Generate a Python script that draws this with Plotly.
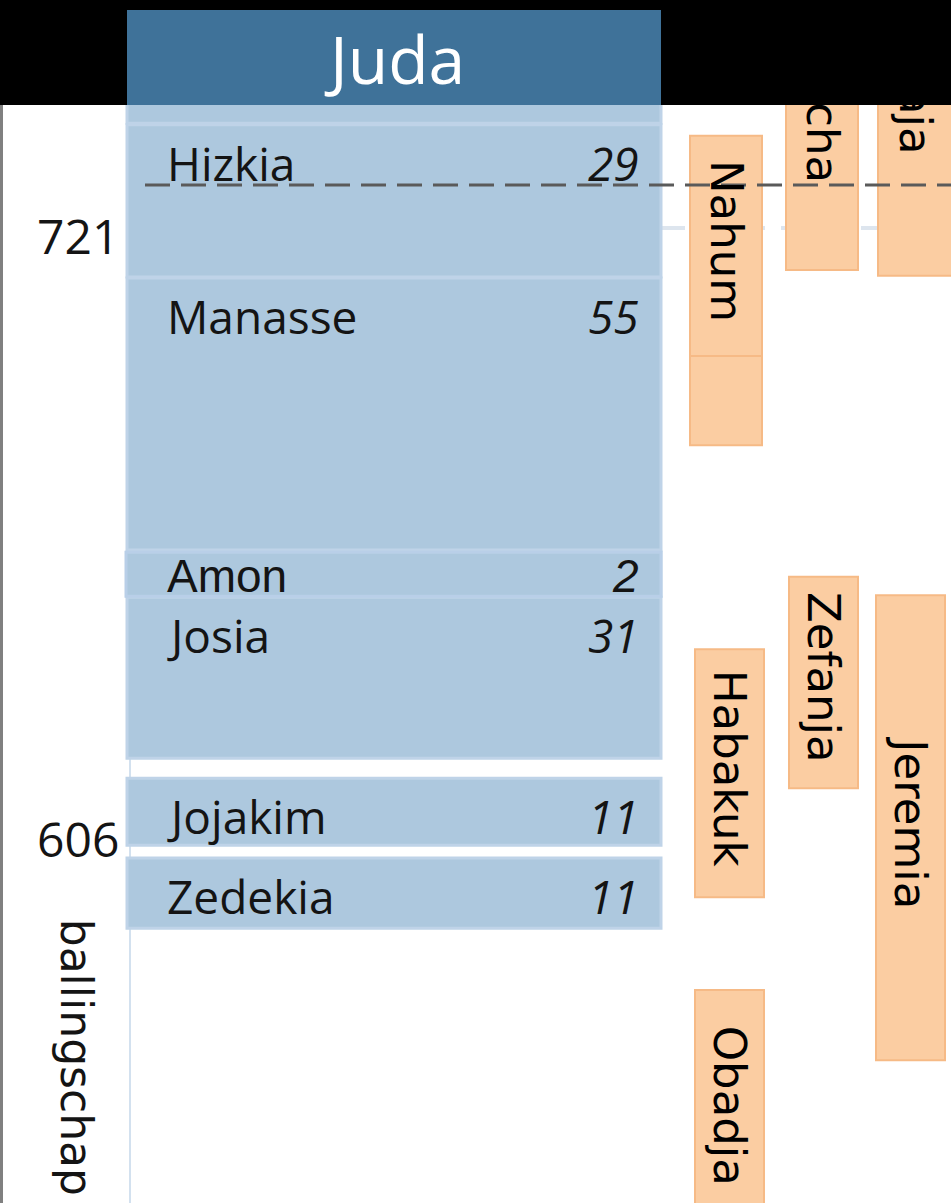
import plotly.graph_objects as go

# ---------------- data (years BC) ----------------
kings = ["Achaz", "Hizkia", "Manasse", "Amon", "Josia", "Jojakim", "Zedekia"]
reign_years = [16, 29, 55, 2, 31, 11, 11]
king_start = [760.0, 742.4, 713.2, 660.9, 652.3, 617.8, 602.6]
king_end = [742.7, 713.4, 661.3, 652.5, 621.6, 605.0, 589.2]

prophets = ["Jesaja", "Micha", "Nahum", "Nahum", "Zefanja", "Habakuk", "Jeremia", "Obadja"]
prophet_start = [783.7, 771.2, 740.3, 698.3, 656.2, 642.4, 652.7, 577.4]
prophet_end = [713.6, 714.7, 698.3, 681.3, 615.9, 595.1, 564.0, 531.6]

year_ticks = [721, 606]
year_tick_labels = ["721", "606"]
kingdom = "Juda"
exile_label = "ballingschap"
exile_year = 589.2
event_year = 730.9      # dashed marker line
guide_year = 722.7      # faint guide line

# ---------------- layout / style constants ----------------
W, H = 951, 1203
Y_TOP, Y_BOTTOM = 766.2, 536.8
HEADER_PX = 105
KING_X = (127, 661)
NAME_X, NUM_X = 165, 641
LABEL_OFFSET = {"Amon": 24}
LANES = {
    "Jesaja": (878, 953), "Micha": (786, 858), "Nahum": (690, 762),
    "Zefanja": (789, 858), "Habakuk": (695, 764), "Jeremia": (876, 945),
    "Obadja": (695, 764),
}
KING_FILL, KING_LINE = "#adc8de", "#bfd3e8"
HEAD_FILL = "#3f7299"
PRO_FILL, PRO_LINE = "#fbcda2", "#f6ba86"
TXT = "#000000"
NAME_FONT = "Open Sans"
PRO_FONT = "DejaVu Sans"

fig = go.Figure()
shapes = []
annotations = []

# faint guide line (behind prophets)
shapes.append(dict(type="line", xref="x", yref="y", x0=KING_X[1], x1=880,
                   y0=guide_year, y1=guide_year,
                   line=dict(color="#dde5ee", width=4, dash="24px,16px")))

# kings
for name, r, s, e in zip(kings, reign_years, king_start, king_end):
    shapes.append(dict(type="rect", xref="x", yref="y", x0=KING_X[0], x1=KING_X[1],
                       y0=s, y1=e, fillcolor=KING_FILL,
                       line=dict(color=KING_LINE, width=3)))
# Amon drawn on top once more (its own bordered box)
for name, r, s, e in zip(kings, reign_years, king_start, king_end):
    if name == "Amon":
        shapes.append(dict(type="rect", xref="x", yref="y", x0=KING_X[0] - 1, x1=KING_X[1],
                           y0=s, y1=e, fillcolor=KING_FILL,
                           line=dict(color="#b9cfe8", width=3)))

for name, r, s, e in zip(kings, reign_years, king_start, king_end):
    if s > Y_TOP - 20:
        continue
    fam = "Liberation Sans" if name == "Amon" else NAME_FONT
    off = LABEL_OFFSET.get(name, 38)
    annotations.append(dict(text=name, xref="x", yref="y", x=NAME_X, y=s, yshift=-off,
                            xanchor="left", yanchor="middle", showarrow=False,
                            font=dict(family=fam, size=46, color="#141414")))
    annotations.append(dict(text=str(r), xref="x", yref="y", x=NUM_X, y=s, yshift=-off,
                            xanchor="right", yanchor="middle", showarrow=False,
                            font=dict(family=fam, size=46, color="#141414", style="italic")))

# prophets
seen = set()
for name, s, e in zip(prophets, prophet_start, prophet_end):
    x0, x1 = LANES[name]
    shapes.append(dict(type="rect", xref="x", yref="y", x0=x0, x1=x1, y0=s, y1=e,
                       fillcolor=PRO_FILL, line=dict(color=PRO_LINE, width=2)))
    if name not in seen:
        seen.add(name)
        annotations.append(dict(text=name, xref="x", yref="y", x=(x0 + x1) / 2,
                                y=(s + e) / 2, yshift=5, textangle=90,
                                xanchor="center", yanchor="middle", showarrow=False,
                                font=dict(family=PRO_FONT, size=45, color=TXT)))

# dashed event line
shapes.append(dict(type="line", xref="x", yref="y", x0=145, x1=W, y0=event_year, y1=event_year,
                   line=dict(color="#5a5a5a", width=3, dash="25px,11px")))

# black header band and kingdom header
hb = 1 - HEADER_PX / H
shapes.append(dict(type="rect", xref="paper", yref="paper", x0=0, x1=1, y0=hb, y1=1.01,
                   fillcolor="#000000", line=dict(width=0)))
shapes.append(dict(type="rect", xref="x", yref="paper", x0=KING_X[0], x1=KING_X[1],
                   y0=hb, y1=1 - 10 / H, fillcolor=HEAD_FILL, line=dict(width=0)))
annotations.append(dict(text=kingdom, xref="x", yref="paper", x=(KING_X[0] + KING_X[1]) / 2,
                        y=1 - 58 / H, xanchor="center", yanchor="middle", showarrow=False,
                        font=dict(family=NAME_FONT, size=66, color="white")))

# left gray border
shapes.append(dict(type="line", xref="paper", yref="paper", x0=1.5 / W, x1=1.5 / W,
                   y0=0, y1=hb, line=dict(color="#808080", width=3)))

# exile label
annotations.append(dict(text=exile_label, xref="x", yref="y", x=76, y=exile_year, yshift=12,
                        textangle=90, xanchor="center", yanchor="top", showarrow=False,
                        font=dict(family=PRO_FONT, size=44, color="#141414")))

fig.update_layout(
    width=W, height=H, margin=dict(l=0, r=0, t=0, b=0),
    paper_bgcolor="white", plot_bgcolor="white", showlegend=False,
    shapes=shapes, annotations=annotations,
    xaxis=dict(range=[0, W], visible=False, fixedrange=True),
    yaxis=dict(range=[Y_BOTTOM, Y_TOP], anchor="free", position=130 / W, side="left",
               showgrid=False, zeroline=False, showline=True, linecolor="#d3e1ef", linewidth=2,
               tickvals=year_ticks, ticktext=year_tick_labels, ticks="",
               ticklabelstandoff=0, automargin=False, fixedrange=True,
               tickfont=dict(family=NAME_FONT, size=48, color="#141414")),
)
fig.add_trace(go.Scatter(x=[None], y=[None], mode="markers", hoverinfo="skip"))

fig.write_html("out.html", config={"displayModeBar": False},
               post_script="document.body.style.margin='0';document.body.style.overflow='hidden';")
